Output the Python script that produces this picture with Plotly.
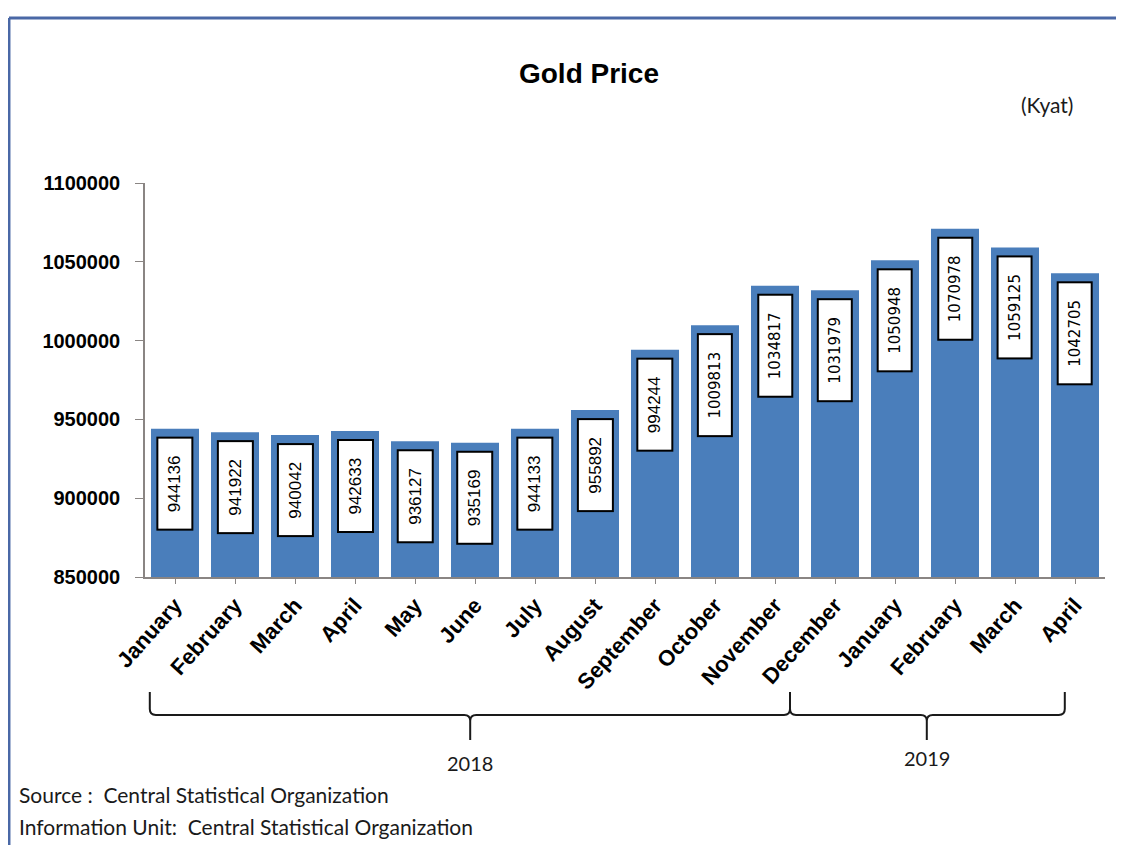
import plotly.graph_objects as go

# ---- data ----
months = ["January", "February", "March", "April", "May", "June", "July", "August",
          "September", "October", "November", "December",
          "January", "February", "March", "April"]
prices = [944136, 941922, 940042, 942633, 936127, 935169, 944133, 955892,
          994244, 1009813, 1034817, 1031979, 1050948, 1070978, 1059125, 1042705]
years = ["2018", "2019"]
y_ticks = [850000, 900000, 950000, 1000000, 1050000, 1100000]

positions = list(range(len(months)))

BAR = "#4a7ebb"
AXIS = "#8a8583"
FRAME = "#4a68a6"
NOTE_FONT = "Lato"

fig = go.Figure()
fig.add_trace(go.Bar(x=positions, y=prices, width=0.8,
                     marker=dict(color=BAR, line=dict(width=0)),
                     hoverinfo="x+y"))

# value label boxes
pad = "\u00a0" * 2
for p, v in zip(positions, prices):
    big = v >= 1000000
    fig.add_annotation(
        x=p, y=v, xref="x", yref="y", showarrow=False,
        text=pad + str(v) + pad, textangle=-90,
        yanchor="top", xanchor="center", yshift=-8,
        font=dict(family="DejaVu Sans" if big else "Liberation Sans, Arial",
                  size=15 if big else 17, color="black"),
        bgcolor="white", bordercolor="black", borderwidth=2, borderpad=7)

# year braces (x in bar-index units, y in paper units)
yT, yB, yP = -0.292, -0.350, -0.414
rx, ry = 0.1, 0.015

def brace(xa, xb, xm):
    return (f"M {xa},{yT} L {xa},{yB+ry} Q {xa},{yB} {xa+rx},{yB} "
            f"L {xm-rx},{yB} Q {xm},{yB} {xm},{yB-ry} L {xm},{yP} "
            f"M {xm},{yB-ry} Q {xm},{yB} {xm+rx},{yB} "
            f"L {xb-rx},{yB} Q {xb},{yB} {xb},{yB+ry} L {xb},{yT}")

brace_ends = [(-0.42, 10.25, 4.92), (10.25, 14.83, 12.53)]
label_y = [-0.472, -0.460]
for (xa, xb, xm), yr, ly in zip(brace_ends, years, label_y):
    fig.add_shape(type="path", path=brace(xa, xb, xm), xref="x", yref="paper",
                  line=dict(color="#1a1a1a", width=2))
    fig.add_annotation(x=xm, y=ly, xref="x", yref="paper", showarrow=False,
                       xanchor="center", yanchor="middle",
                       text=yr, font=dict(family=NOTE_FONT, size=20, color="#1a1a1a"))

# frame lines (top and left)
fig.add_shape(type="line", xref="paper", yref="paper", x0=-0.1417, x1=1.06,
              y0=1.4188, y1=1.4188, line=dict(color=FRAME, width=3))
fig.add_shape(type="line", xref="paper", yref="paper", x0=-0.1417, x1=-0.1417,
              y0=1.4188, y1=-0.75, line=dict(color=FRAME, width=3))

# unit and notes
fig.add_annotation(x=0.9396, y=1.198, xref="paper", yref="paper", showarrow=False,
                   xanchor="center", yanchor="middle",
                   text="(Kyat)", font=dict(family=NOTE_FONT, size=21, color="#1a1a1a"))
fig.add_annotation(x=-0.1333, y=-0.553, xref="paper", yref="paper", showarrow=False,
                   xanchor="left", yanchor="middle",
                   text="Source :  Central Statistical Organization",
                   font=dict(family=NOTE_FONT, size=21, color="#1a1a1a"))
fig.add_annotation(x=-0.1333, y=-0.632, xref="paper", yref="paper", showarrow=False,
                   xanchor="left", yanchor="middle",
                   text="Information Unit:  Central Statistical Organization",
                   font=dict(family=NOTE_FONT, size=21, color="#1a1a1a"))

fig.update_layout(
    width=1124, height=845,
    margin=dict(l=137, r=27, t=175, b=276),
    paper_bgcolor="white", plot_bgcolor="white",
    showlegend=False,
    title=dict(text="<b>Gold Price</b>", x=0.5169, y=0.9231, xanchor="center", yanchor="middle",
               font=dict(family="Liberation Sans, Arial", size=28, color="black")),
    xaxis=dict(range=[-0.5, 15.5], tickmode="array", tickvals=positions, ticktext=months,
               tickangle=-48, ticks="outside", ticklen=5, tickcolor=AXIS,
               showline=True, linecolor=AXIS, linewidth=1.5, showgrid=False, zeroline=False,
               tickfont=dict(family="Liberation Sans, Arial", size=22, color="black", weight="bold"),
               fixedrange=True),
    yaxis=dict(range=[850000, 1100000], tickmode="array", tickvals=y_ticks,
               ticktext=[str(t) for t in y_ticks],
               ticks="outside", ticklen=8, tickcolor=AXIS,
               showline=True, linecolor=AXIS, linewidth=1.5, showgrid=False, zeroline=False,
               ticklabelstandoff=11,
               tickfont=dict(family="Liberation Sans, Arial", size=20, color="black", weight="bold"),
               fixedrange=True),
)

fig.write_html("out.html")
